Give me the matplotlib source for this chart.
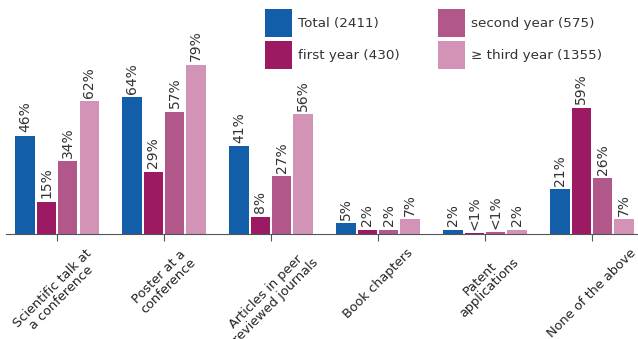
import numpy as np
import matplotlib
matplotlib.use("Agg")
import matplotlib.pyplot as plt

categories = ["Scientific talk at\na conference", "Poster at a\nconference",
              "Articles in peer\nreviewed journals", "Book chapters",
              "Patent\napplications", "None of the above"]
series = ["Total (2411)", "first year (430)", "second year (575)", "≥ third year (1355)"]
total = [46, 64, 41, 5, 2, 21]
first_year = [15, 29, 8, 2, 0.4, 59]
second_year = [34, 57, 27, 2, 0.8, 26]
third_year = [62, 79, 56, 7, 2, 7]
labels_total = ["46%", "64%", "41%", "5%", "2%", "21%"]
labels_first = ["15%", "29%", "8%", "2%", "<1%", "59%"]
labels_second = ["34%", "57%", "27%", "2%", "<1%", "26%"]
labels_third = ["62%", "79%", "56%", "7%", "2%", "7%"]

colors = ["#125ea8", "#9b1a62", "#b2578a", "#d293b6"]
text_color = "#333333"

fig = plt.figure(figsize=(6.38, 3.39), dpi=100)
ax = fig.add_axes([6 / 638, 1 - 234 / 339, 632 / 638, 234 / 339])

x = np.arange(len(categories))
values = [total, first_year, second_year, third_year]
labels = [labels_total, labels_first, labels_second, labels_third]
offsets = [-0.3, -0.1, 0.1, 0.3]
for vals, labs, off, col, name in zip(values, labels, offsets, colors, series):
    bars = ax.bar(x + off, vals, width=0.18, color=col, label=name)
    for b, lab in zip(bars, labs):
        ax.annotate(lab, (b.get_x() + b.get_width() / 2, b.get_height()),
                    xytext=(0, 2.5), textcoords="offset points",
                    ha="center", va="bottom", rotation=90,
                    fontsize=10, color=text_color)

ax.set_xlim(-0.477, 5.43)
ax.set_ylim(0, 109.3)
ax.set_xticks(x)
ax.set_xticklabels(categories, rotation=45, ha="center", fontsize=9.3,
                   color="#222222", linespacing=1.0)
ax.set_yticks([])
for s in ["top", "right", "left"]:
    ax.spines[s].set_visible(False)
ax.spines["bottom"].set_color("#555555")
ax.tick_params(axis="x", length=5, color="#555555", pad=4)

ax.legend(ncol=2, loc="upper left", bbox_to_anchor=(250 / 632, 1.0),
          frameon=False, fontsize=9.7, handlelength=2.0, handleheight=2.8,
          handletextpad=0.45, labelspacing=0.3, columnspacing=2.8,
          labelcolor=text_color, borderaxespad=0.3)

fig.savefig("out.png", dpi=100)
